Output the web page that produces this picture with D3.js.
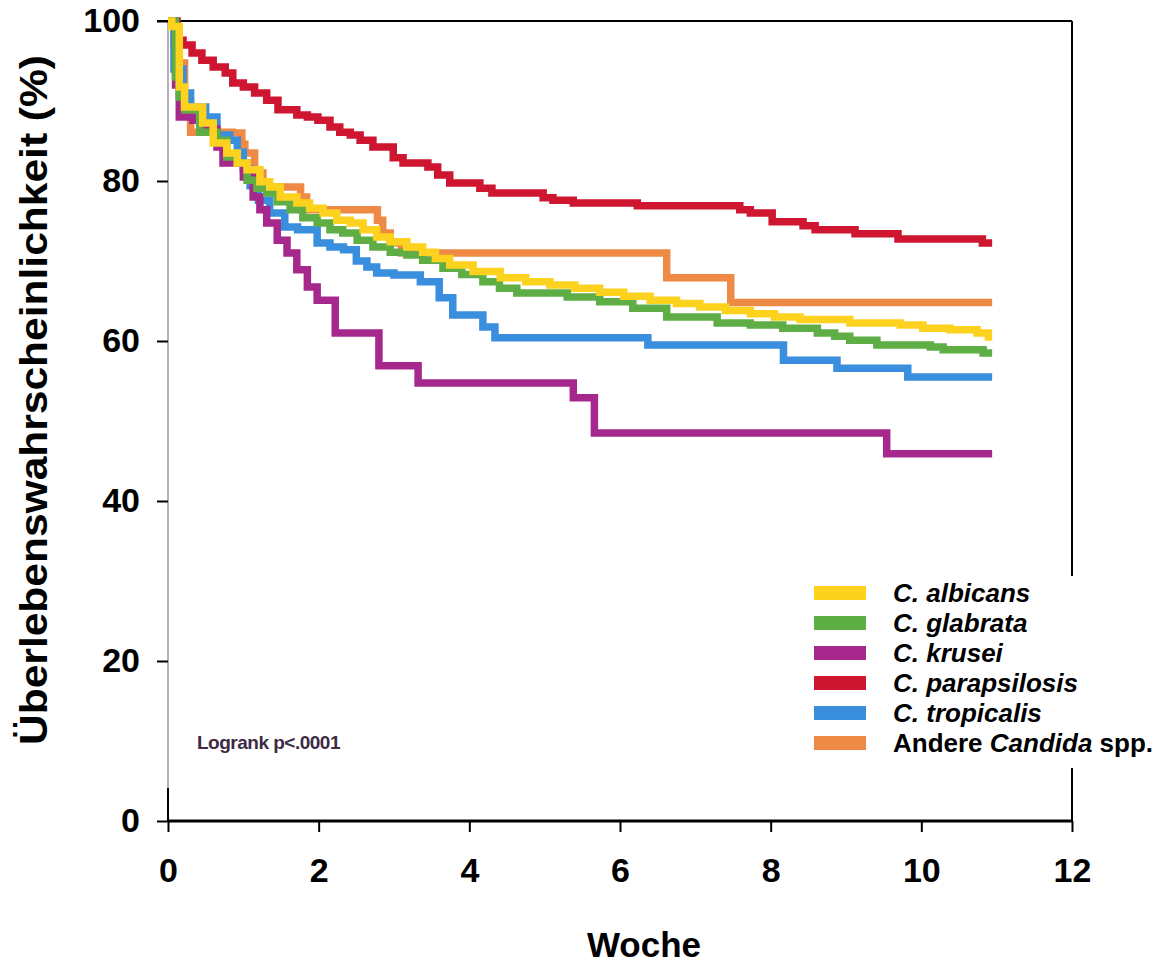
<!DOCTYPE html>
<html>
<head>
<meta charset="utf-8">
<script src="https://cdn.jsdelivr.net/npm/d3@7"></script>
<style>
  body { margin: 0; background: #fff; }
  svg { display: block; }
  text { font-family: "Liberation Sans", Arial, sans-serif; }
</style>
</head>
<body>
<svg id="chart" width="1160" height="966"></svg>
<script>
// Kaplan-Meier steps, [week, survival %]
var albicans = [[0,100],[0.05,99.3],[0.15,91.75],[0.22,89.25],[0.46,87.25],[0.6,84.75],[0.78,83.5],[0.92,82.25],[1.05,81.4],[1.22,79.9],[1.35,79.25],[1.49,78],[1.71,77.25],[1.88,76.6],[2.06,76],[2.24,75.1],[2.42,74.75],[2.59,73.9],[2.77,73],[2.95,72.4],[3.17,71.75],[3.38,71.1],[3.55,70.3],[3.74,69.5],[4.05,68.7],[4.41,67.9],[4.75,67.4],[5.07,67],[5.4,66.6],[5.73,66.1],[6.05,65.6],[6.4,65.1],[6.75,64.7],[7.06,64.25],[7.4,63.8],[7.73,63.4],[8.05,63.0],[8.39,62.7],[9.05,62.25],[9.72,62],[10.02,61.6],[10.38,61.4],[10.74,61],[10.89,60.5],[10.94,60.5]];
var glabrata = [[0,100],[0.1,93],[0.15,90.5],[0.22,88.9],[0.42,86.1],[0.65,85.1],[0.78,83],[0.92,82.25],[1.05,80.1],[1.18,79.1],[1.31,78.5],[1.45,77.4],[1.62,76.4],[1.79,75.4],[1.98,74.75],[2.15,73.9],[2.32,73.5],[2.51,72.6],[2.72,71.75],[2.95,71.1],[3.17,70.75],[3.38,70.1],[3.65,69.1],[3.9,68.3],[4.18,67.4],[4.4,66.6],[4.63,66],[5.3,65.5],[5.73,64.9],[6.17,64.1],[6.62,63],[7.29,62.25],[7.73,62],[8.16,61.6],[8.62,61],[8.85,60.6],[9.05,60.1],[9.41,59.5],[10.12,59.25],[10.29,58.9],[10.82,58.5],[10.94,58.5]];
var krusei = [[0,100],[0.1,92],[0.15,88],[0.33,87.6],[0.46,86.5],[0.65,84.25],[0.73,82.25],[1.0,80.5],[1.13,78],[1.22,76.4],[1.31,74.75],[1.45,72.6],[1.58,71],[1.71,68.9],[1.85,66.75],[1.98,65.1],[2.22,61],[2.8,56.9],[3.32,54.75],[5.38,52.9],[5.66,48.5],[9.54,45.9],[10.94,45.9]];
var parapsilosis = [[0,100],[0.12,97.6],[0.2,97],[0.32,96],[0.45,95.1],[0.6,94.25],[0.76,93.5],[0.86,92.25],[1.0,91.75],[1.15,91],[1.31,90.1],[1.46,88.9],[1.71,88.25],[1.85,88],[1.99,87.6],[2.15,86.75],[2.28,86.1],[2.42,85.75],[2.55,85.1],[2.72,84.25],[2.99,82.9],[3.12,82.25],[3.45,81.75],[3.58,80.75],[3.74,79.75],[4.14,79.1],[4.3,78.5],[4.98,77.9],[5.11,77.6],[5.38,77.25],[6.23,76.9],[7.59,76.4],[7.73,76.0],[8.02,74.9],[8.43,74.4],[8.59,73.9],[9.12,73.4],[9.69,72.75],[10.81,72.25],[10.94,72.25]];
var tropicalis = [[0,100],[0.08,94],[0.2,91],[0.3,89.25],[0.5,88],[0.65,85.75],[0.82,85.1],[0.92,83.6],[1.0,81.5],[1.09,79.4],[1.2,77.6],[1.35,76],[1.55,74.25],[1.72,73.9],[1.98,72.25],[2.15,71.75],[2.33,71.4],[2.5,70],[2.64,69.25],[2.77,68.5],[3.0,68.25],[3.35,67.4],[3.6,65.4],[3.78,63.25],[4.18,61.75],[4.34,60.4],[6.37,59.5],[8.17,57.6],[8.88,56.6],[9.82,55.5],[10.94,55.5]];
var andere = [[0,100],[0.08,97],[0.15,94.75],[0.22,90],[0.3,86.1],[0.85,86],[0.98,84.6],[1.02,83.5],[1.15,81],[1.26,79.25],[1.76,78],[1.84,76.4],[2.7,76.4],[2.78,75.1],[2.85,73.5],[2.95,72.25],[3.1,71],[6.62,67.9],[7.47,64.8],[10.94,64.8]];

var xTicks = [0, 2, 4, 6, 8, 10, 12];
var yTicks = [0, 20, 40, 60, 80, 100];

var series = [
  { name: "albicans", label: ["C. albicans"], data: albicans, color: "#fdd21f" },
  { name: "glabrata", label: ["C. glabrata"], data: glabrata, color: "#5fae45" },
  { name: "krusei", label: ["C. krusei"], data: krusei, color: "#a6288c" },
  { name: "parapsilosis", label: ["C. parapsilosis"], data: parapsilosis, color: "#cf1631" },
  { name: "tropicalis", label: ["C. tropicalis"], data: tropicalis, color: "#3a8ede" },
  { name: "andere", label: ["Andere ", "Candida", " spp."], data: andere, color: "#ee8a45" }
];

var svg = d3.select("#chart");
var x = d3.scaleLinear().domain([0, 12]).range([168, 1072]);
var y = d3.scaleLinear().domain([0, 100]).range([821, 21]);

// frame: top + right
svg.append("line").attr("x1", 157).attr("x2", 1072).attr("y1", y(100)).attr("y2", y(100))
  .attr("stroke", "#000").attr("stroke-width", 2);
svg.append("line").attr("x1", 1072).attr("x2", 1072).attr("y1", y(100)).attr("y2", y(0))
  .attr("stroke", "#000").attr("stroke-width", 2);

// left axis line is grey except near the bottom
svg.append("line").attr("x1", x(0)).attr("x2", x(0)).attr("y1", y(100)).attr("y2", 788)
  .attr("stroke", "#b8b0b8").attr("stroke-width", 2);
svg.append("line").attr("x1", x(0)).attr("x2", x(0)).attr("y1", 788).attr("y2", y(0))
  .attr("stroke", "#000").attr("stroke-width", 2);

// curves
var line = d3.line()
  .x(d => x(d[0]))
  .y(d => y(d[1]))
  .curve(d3.curveStepAfter);

var drawOrder = ["andere", "tropicalis", "parapsilosis", "krusei", "glabrata", "albicans"];
drawOrder.forEach(function(n) {
  let s = series.find(d => d.name == n);
  svg.append("path")
    .datum(s.data)
    .attr("fill", "none")
    .attr("stroke", s.color)
    .attr("stroke-width", 7.5)
    .attr("stroke-linejoin", "miter")
    .attr("d", line);
});

// y axis
let yAxis = svg.append("g")
  .attr("transform", `translate(${x(0)},0)`)
  .call(d3.axisLeft(y).tickValues(yTicks).tickSize(11).tickPadding(17));
yAxis.select(".domain").remove();
yAxis.selectAll(".tick line").attr("stroke-width", 2);
yAxis.selectAll(".tick text")
  .attr("font-family", "Liberation Sans, Arial, sans-serif")
  .attr("font-weight", "bold")
  .attr("font-size", 34)
  .attr("fill", "#000");

// x axis
let xAxis = svg.append("g")
  .attr("transform", `translate(0,${y(0)})`)
  .call(d3.axisBottom(x).tickValues(xTicks).tickSize(11).tickPadding(26));
xAxis.select(".domain").attr("stroke-width", 3).attr("d", `M${x(0)},0H${x(12)}`);
xAxis.selectAll(".tick line").attr("stroke-width", 2);
xAxis.selectAll(".tick text")
  .attr("font-family", "Liberation Sans, Arial, sans-serif")
  .attr("font-weight", "bold")
  .attr("font-size", 34)
  .attr("fill", "#000");

// axis titles
svg.append("text")
  .attr("x", 644).attr("y", 957)
  .attr("text-anchor", "middle")
  .attr("font-weight", "bold")
  .attr("font-size", 35)
  .text("Woche");

svg.append("text")
  .attr("transform", "translate(47,400) rotate(-90)")
  .attr("text-anchor", "middle")
  .attr("font-weight", "bold")
  .attr("font-size", 38)
  .attr("textLength", 690)
  .attr("lengthAdjust", "spacingAndGlyphs")
  .text("Überlebenswahrscheinlichkeit (%)");

// logrank note
svg.append("text")
  .attr("x", 197).attr("y", 749)
  .attr("font-family", "Open Sans, sans-serif")
  .attr("font-weight", 700)
  .attr("font-size", 19)
  .attr("letter-spacing", -0.5)
  .attr("fill", "#3d2a45")
  .text("Logrank p<.0001");

// legend
let legend = svg.append("g");
legend.append("rect")
  .attr("x", 800).attr("y", 576).attr("width", 360).attr("height", 192)
  .attr("fill", "#fff");
let rows = legend.selectAll("g.row")
  .data(series)
  .enter().append("g")
  .attr("class", "row")
  .attr("transform", (d, i) => `translate(0,${593 + i * 30})`);
rows.append("rect")
  .attr("x", 814).attr("y", -7).attr("width", 52).attr("height", 14)
  .attr("fill", d => d.color);
let labels = rows.append("text")
  .attr("x", 893).attr("y", 9)
  .attr("font-weight", "bold")
  .attr("font-size", 26);
labels.each(function(d) {
  let t = d3.select(this);
  if (d.label.length == 1) {
    t.append("tspan").attr("font-style", "italic").text(d.label[0]);
  } else {
    t.append("tspan").text(d.label[0]);
    t.append("tspan").attr("font-style", "italic").text(d.label[1]);
    t.append("tspan").text(d.label[2]);
  }
});
</script>
</body>
</html>
